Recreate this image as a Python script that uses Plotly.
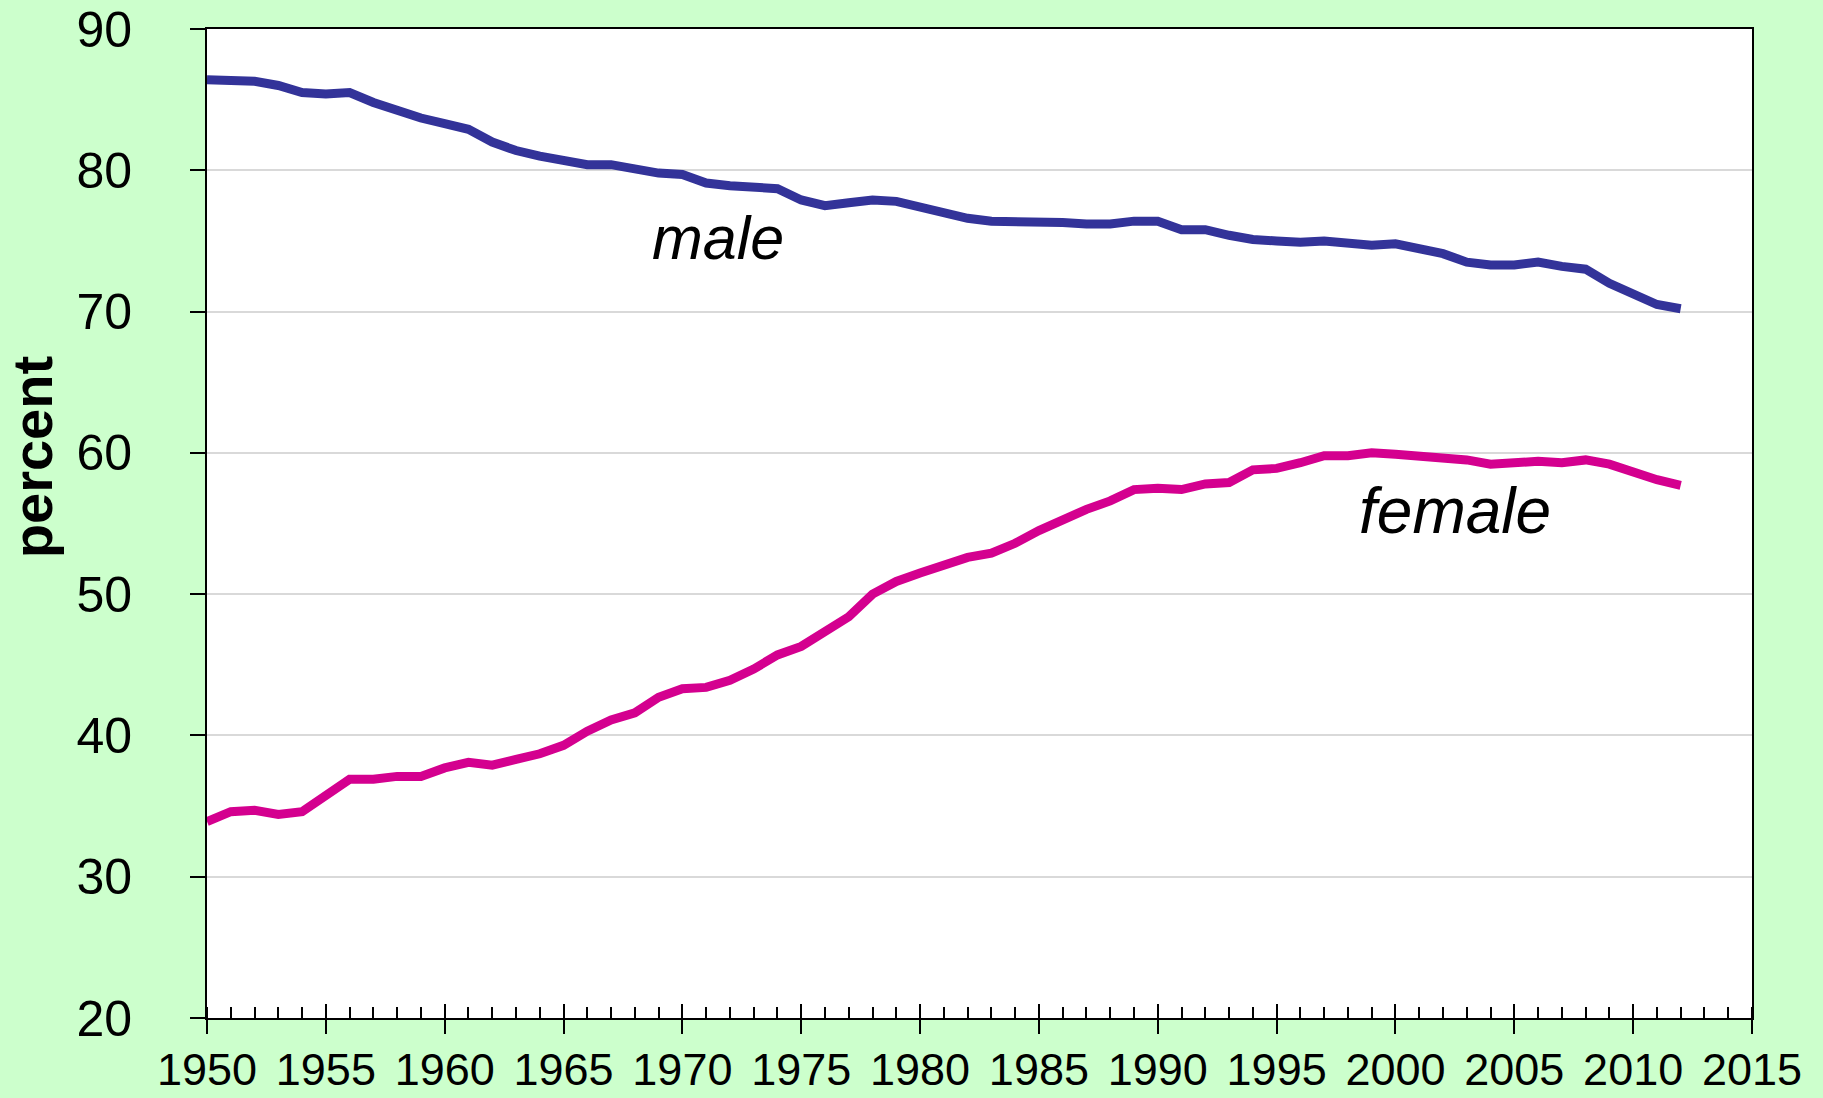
import plotly.graph_objects as go

years = list(range(1950, 2013))
male = [86.4, 86.3, 86.3, 86.0, 85.5, 85.4, 85.5, 84.8, 84.2, 83.7,
        83.3, 82.9, 82.0, 81.4, 81.0, 80.7, 80.4, 80.4, 80.1, 79.8,
        79.7, 79.1, 78.9, 78.8, 78.7, 77.9, 77.5, 77.7, 77.9, 77.8,
        77.4, 77.0, 76.6, 76.4, 76.4, 76.3, 76.3, 76.2, 76.2, 76.4,
        76.4, 75.8, 75.8, 75.4, 75.1, 75.0, 74.9, 75.0, 74.9, 74.7,
        74.8, 74.4, 74.1, 73.5, 73.3, 73.3, 73.5, 73.2, 73.0, 72.0,
        71.2, 70.5, 70.2]
female = [33.9, 34.6, 34.7, 34.4, 34.6, 35.7, 36.9, 36.9, 37.1, 37.1,
          37.7, 38.1, 37.9, 38.3, 38.7, 39.3, 40.3, 41.1, 41.6, 42.7,
          43.3, 43.4, 43.9, 44.7, 45.7, 46.3, 47.3, 48.4, 50.0, 50.9,
          51.5, 52.1, 52.6, 52.9, 53.6, 54.5, 55.3, 56.0, 56.6, 57.4,
          57.5, 57.4, 57.8, 57.9, 58.8, 58.9, 59.3, 59.8, 59.8, 60.0,
          59.9, 59.8, 59.6, 59.5, 59.2, 59.3, 59.4, 59.3, 59.5, 59.2,
          58.6, 58.1, 57.7]
x_ticks = list(range(1950, 2016, 5))
y_ticks = list(range(20, 91, 10))

FONT = "Liberation Sans, Arial, sans-serif"

fig = go.Figure()
fig.add_trace(go.Scatter(x=years, y=male, mode="lines", name="male",
                         line=dict(color="#333399", width=9), showlegend=False))
fig.add_trace(go.Scatter(x=years, y=female, mode="lines", name="female",
                         line=dict(color="#D4008F", width=9), showlegend=False))
# invisible helper trace to carry the inside half of the crossing major ticks
fig.add_trace(go.Scatter(x=years, y=male, mode="lines", xaxis="x2",
                         line=dict(width=0), opacity=0, showlegend=False,
                         hoverinfo="skip"))

fig.add_annotation(x=1971.5, y=75.2, text="<i>male</i>", showarrow=False,
                   font=dict(family=FONT, size=61, color="black"))
fig.add_annotation(x=2002.5, y=55.9, text="<i>female</i>", showarrow=False,
                   font=dict(family=FONT, size=64, color="black"))
fig.add_annotation(xref="paper", yref="paper", x=-0.1133, y=0.567,
                   text="<b>percent</b>", textangle=-90, showarrow=False,
                   xanchor="center", yanchor="middle",
                   font=dict(family=FONT, size=56, color="black"))

fig.update_layout(
    width=1823, height=1098,
    margin=dict(l=207, r=71, t=29, b=80),
    paper_bgcolor="#CCFFCC",
    plot_bgcolor="white",
    font=dict(family=FONT, color="black"),
    xaxis=dict(range=[1950, 2015], tickvals=x_ticks,
               ticktext=[str(v) for v in x_ticks],
               ticks="outside", ticklen=14, tickwidth=2, tickcolor="black",
               minor=dict(ticks="inside", dtick=1, tick0=1950, ticklen=11,
                          tickwidth=1.5, tickcolor="black", showgrid=False),
               showline=True, linecolor="black", linewidth=2, mirror=True,
               showgrid=False, zeroline=False, automargin=False,
               tickfont=dict(family=FONT, size=45, color="black"),
               ticklabelstandoff=-3),
    xaxis2=dict(range=[1950, 2015], overlaying="x", matches="x",
                tickvals=x_ticks, ticks="inside", ticklen=14, tickwidth=2,
                tickcolor="black", showticklabels=False, showline=False,
                showgrid=False, zeroline=False, side="bottom",
                automargin=False),
    yaxis=dict(range=[20, 90], tickvals=y_ticks,
               ticks="outside", ticklen=15, tickwidth=2, tickcolor="black",
               showline=True, linecolor="black", linewidth=2, mirror=True,
               showgrid=True, gridcolor="#D9D9D9", gridwidth=1.5,
               zeroline=False, automargin=False,
               tickfont=dict(family=FONT, size=50, color="black"),
               ticklabelstandoff=48),
)

fig.write_html("out.html", config={"displayModeBar": False},
               post_script="document.body.style.margin='0px';"
                           "document.body.style.overflow='hidden';")
